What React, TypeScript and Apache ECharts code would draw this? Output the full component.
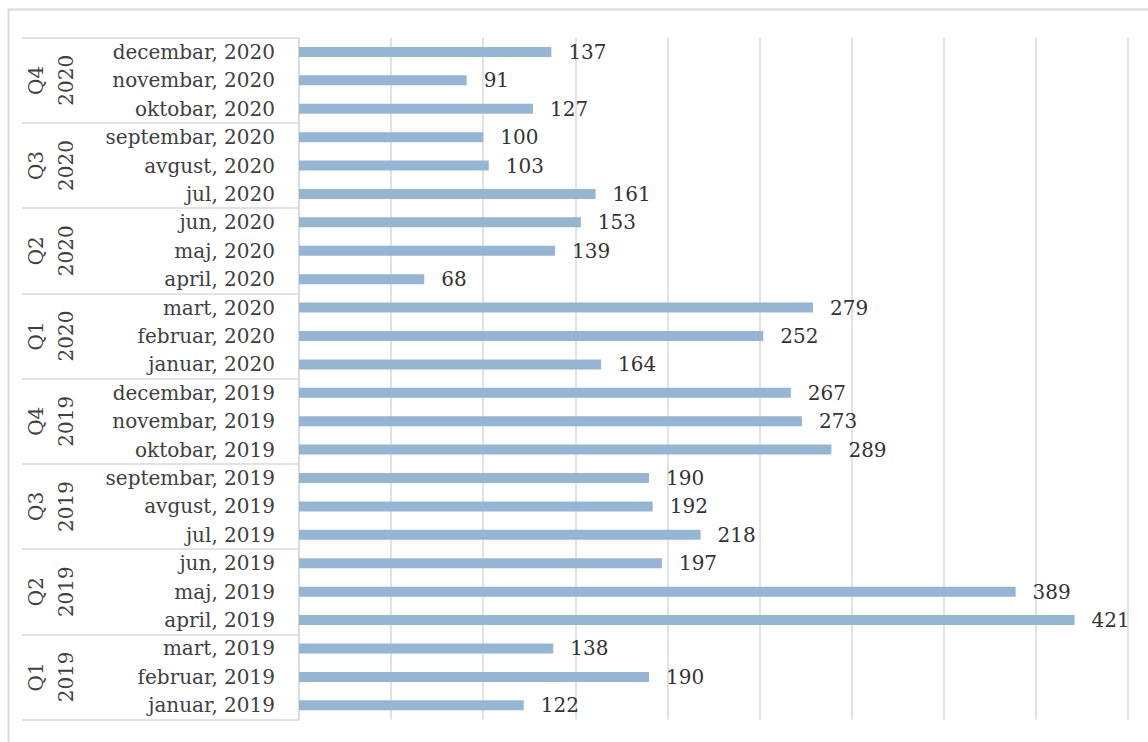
import React, { useEffect, useRef } from "react";
import * as echarts from "echarts";

const months = ["januar", "februar", "mart", "april", "maj", "jun", "jul", "avgust", "septembar", "oktobar", "novembar", "decembar"];
const years = ["2019", "2020"];
const values2019 = [122, 190, 138, 421, 389, 197, 218, 192, 190, 289, 273, 267];
const values2020 = [164, 252, 279, 68, 139, 153, 161, 103, 100, 127, 91, 137];
const quarters = ["Q1", "Q2", "Q3", "Q4"];
const xTicks = { min: 0, max: 450, interval: 50 };

const categories: string[] = [];
years.forEach((y) => months.forEach((m) => categories.push(`${m}, ${y}`)));
const values = [...values2019, ...values2020];
const quarterCats: string[] = [];
years.forEach((y) => quarters.forEach((q) => quarterCats.push(`${q}\n${y}`)));

const FONT = "DejaVu Serif";
const TEXT = "#404040";
const GRID = "#d9d9d9";

export default function App() {
  const ref = useRef<HTMLDivElement>(null);
  useEffect(() => {
    if (!ref.current) return;
    const chart = echarts.init(ref.current, null, { renderer: "svg" });
    chart.setOption({
      animation: false,
      backgroundColor: "#ffffff",
      graphic: [
        {
          type: "rect",
          shape: { x: 8.5, y: 9.5, width: 1200, height: 800 },
          style: { fill: "none", stroke: GRID, lineWidth: 2 },
          silent: true,
        },
      ],
      grid: { left: 299, right: 20, top: 37.7, bottom: 22.5, containLabel: false },
      xAxis: {
        type: "value",
        min: xTicks.min,
        max: xTicks.max,
        interval: xTicks.interval,
        axisLabel: { show: false },
        axisLine: { show: false },
        axisTick: { show: false },
        splitLine: { show: true, lineStyle: { color: GRID, width: 1.5 } },
      },
      yAxis: [
        {
          type: "category",
          data: categories,
          position: "left",
          axisLine: { show: true, lineStyle: { color: GRID, width: 1.5 } },
          axisTick: { show: false },
          axisLabel: {
            interval: 0,
            margin: 24,
            fontFamily: FONT,
            fontSize: 20,
            color: TEXT,
          },
        },
        {
          type: "category",
          data: quarterCats,
          position: "left",
          offset: 0,
          axisLine: { show: false },
          axisTick: {
            show: true,
            interval: 0,
            length: 277,
            lineStyle: { color: GRID, width: 1.5 },
          },
          axisLabel: {
            interval: 0,
            rotate: 90,
            margin: 218,
            fontFamily: FONT,
            fontSize: 20,
            lineHeight: 30,
            color: TEXT,
          },
        },
      ],
      series: [
        {
          type: "bar",
          yAxisIndex: 0,
          data: values,
          barWidth: 10,
          itemStyle: { color: "#94b6d4" },
          label: {
            show: true,
            position: "right",
            distance: 17,
            fontFamily: FONT,
            fontSize: 20,
            color: "#333333",
          },
        },
      ],
    });
    return () => chart.dispose();
  }, []);
  return (
    <div
      ref={ref}
      style={{ position: "fixed", left: 0, top: 0, width: 1148, height: 742 }}
    />
  );
}
